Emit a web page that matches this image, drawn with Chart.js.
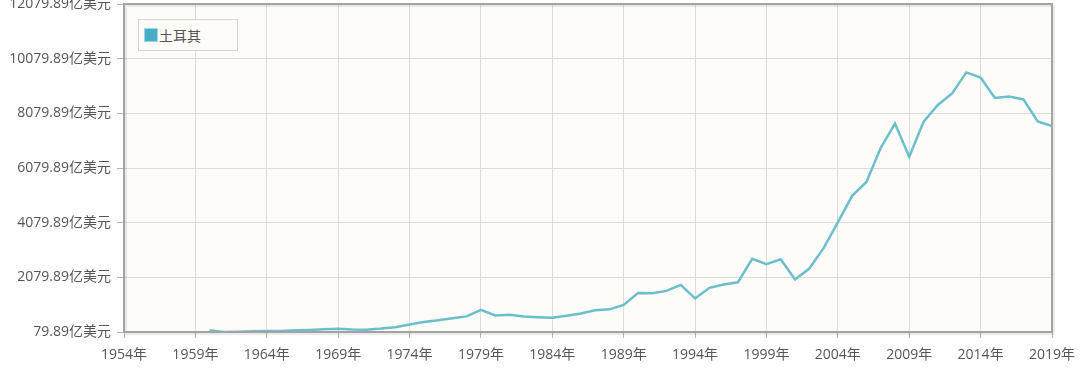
<!DOCTYPE html>
<html>
<head>
<meta charset="utf-8">
<script src="https://cdn.jsdelivr.net/npm/chart.js@4.4.1/dist/chart.umd.min.js"></script>
<style>
  html, body { margin: 0; padding: 0; background: #ffffff; }
  #wrap { position: relative; width: 1080px; height: 371px; }
  #legend {
    position: absolute; left: 138px; top: 19px; width: 100px; height: 32px;
    border: 1px solid #d4d4d4; background: #fdfcf8; box-sizing: border-box;
    font: 14px "Open Sans", "Noto Sans CJK SC", sans-serif; color: #555;
    display: flex; align-items: center; padding-left: 5px;
  }
  #legend .sw {
    width: 14px; height: 14px; background: #46adc6; border: 1px solid #9fd6e3;
    box-sizing: border-box; margin-right: 1px;
  }
</style>
</head>
<body>
<div id="wrap">
  <canvas id="gdpChart" width="1080" height="371"></canvas>
  <div id="legend"><span class="sw"></span><span id="legendText"></span></div>
</div>
<script>
// Turkey GDP, unit: 亿美元
const seriesName = '土耳其';
const years = [
  1960, 1961, 1962, 1963, 1964, 1965, 1966, 1967, 1968, 1969,
  1970, 1971, 1972, 1973, 1974, 1975, 1976, 1977, 1978, 1979,
  1980, 1981, 1982, 1983, 1984, 1985, 1986, 1987, 1988, 1989,
  1990, 1991, 1992, 1993, 1994, 1995, 1996, 1997, 1998, 1999,
  2000, 2001, 2002, 2003, 2004, 2005, 2006, 2007, 2008, 2009,
  2010, 2011, 2012, 2013, 2014, 2015, 2016, 2017, 2018, 2019
];
const gdp = [
  140, 80, 89, 104, 112, 119, 141, 157, 176, 198,
  171, 164, 204, 257, 356, 446, 513, 587, 651, 894,
  688, 710, 645, 617, 600, 672, 757, 872, 909, 1071,
  1507, 1500, 1585, 1802, 1307, 1695, 1815, 1898, 2759, 2564,
  2743, 2003, 2403, 3146, 4089, 5063, 5571, 6813, 7705, 6493,
  7770, 8388, 8806, 9578, 9389, 8643, 8697, 8589, 7785, 7610
];
const xTicks = [1954, 1959, 1964, 1969, 1974, 1979, 1984, 1989, 1994, 1999, 2004, 2009, 2014, 2019];
const yTicks = [79.89, 2079.89, 4079.89, 6079.89, 8079.89, 10079.89, 12079.89];

document.getElementById('legendText').textContent = seriesName;

const tickFont = { family: '"Open Sans", "Noto Sans CJK SC", sans-serif', size: 14 };

// cream plot background and grey frame
const plotFrame = {
  id: 'plotFrame',
  beforeDraw(chart) {
    const { ctx, chartArea: a } = chart;
    ctx.save();
    ctx.fillStyle = '#fdfcf8';
    ctx.fillRect(a.left, a.top, a.right - a.left, a.bottom - a.top);
    ctx.restore();
  },
  afterDatasetsDraw(chart) {
    const { ctx, chartArea: a } = chart;
    ctx.save();
    ctx.strokeStyle = 'rgba(0,0,0,0.08)';
    ctx.lineWidth = 2;
    ctx.strokeRect(a.left + 2, a.top + 2, a.right - a.left, a.bottom - a.top);
    ctx.strokeStyle = '#a3a3a3';
    ctx.lineWidth = 2;
    ctx.strokeRect(a.left, a.top, a.right - a.left, a.bottom - a.top);
    ctx.restore();
  }
};

new Chart(document.getElementById('gdpChart'), {
  type: 'line',
  data: {
    datasets: [{
      label: seriesName,
      data: years.map((y, i) => ({ x: y, y: gdp[i] })),
      borderColor: '#6bbfca',
      borderWidth: 2.5,
      pointRadius: 0,
      tension: 0,
      fill: false
    }]
  },
  options: {
    responsive: false,
    animation: false,
    layout: { padding: { top: 4, right: 28, left: 0, bottom: 0 } },
    plugins: { legend: { display: false }, tooltip: { enabled: false } },
    scales: {
      x: {
        type: 'linear',
        min: 1954,
        max: 2019,
        afterBuildTicks: s => { s.ticks = xTicks.map(v => ({ value: v })); },
        afterFit: s => { s.height = 39; s.paddingLeft = 0; s.paddingRight = 0; },
        grid: { color: '#dcdcdc', lineWidth: 1, tickLength: 6, tickColor: '#b5b5b5' },
        border: { display: false },
        ticks: {
          color: '#555',
          font: tickFont,
          padding: 9,
          maxRotation: 0,
          autoSkip: false,
          callback: v => v + '年'
        }
      },
      y: {
        min: 79.89,
        max: 12079.89,
        afterBuildTicks: s => { s.ticks = yTicks.map(v => ({ value: v })); },
        afterFit: s => { s.width = 124; s.paddingTop = 0; s.paddingBottom = 0; },
        grid: { color: '#dcdcdc', lineWidth: 1, tickLength: 7, tickColor: '#b5b5b5' },
        border: { display: false },
        ticks: {
          color: '#555',
          font: tickFont,
          padding: 6,
          autoSkip: false,
          callback: v => v.toFixed(2) + '亿美元'
        }
      }
    }
  },
  plugins: [plotFrame]
});
</script>
</body>
</html>
